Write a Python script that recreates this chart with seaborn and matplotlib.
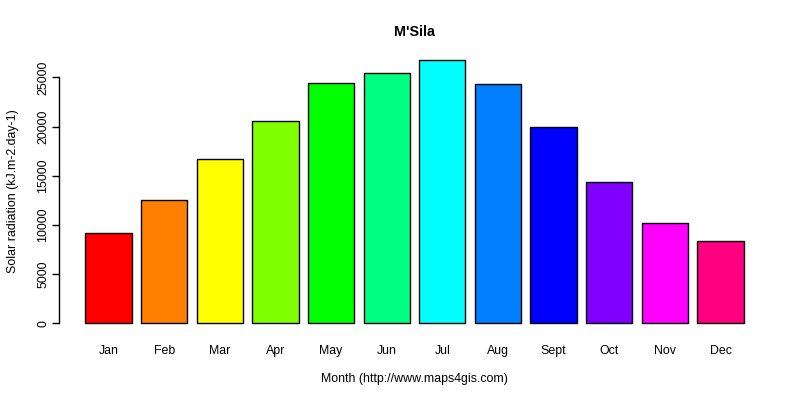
import matplotlib
matplotlib.use("Agg")
import matplotlib.pyplot as plt
import seaborn as sns
import pandas as pd

months = ["Jan", "Feb", "Mar", "Apr", "May", "Jun", "Jul", "Aug", "Sept", "Oct", "Nov", "Dec"]
radiation = [9150, 12560, 16670, 20530, 24450, 25470, 26790, 24290, 19920, 14330, 10160, 8330]
colors = ["#FF0000", "#FF8000", "#FFFF00", "#80FF00", "#00FF00", "#00FF80",
          "#00FFFF", "#0080FF", "#0000FF", "#8000FF", "#FF00FF", "#FF0080"]
y_ticks = [0, 5000, 10000, 15000, 20000, 25000]

sns.set_style("white")
plt.rcParams["font.family"] = ["Liberation Sans", "DejaVu Sans"]
plt.rcParams["text.color"] = "black"
plt.rcParams["axes.labelcolor"] = "black"
plt.rcParams["xtick.color"] = "black"
plt.rcParams["ytick.color"] = "black"

df = pd.DataFrame({"month": months, "value": radiation})

fig = plt.figure(figsize=(8, 4), dpi=100)
ax = fig.add_axes([0.07375, 0.1655, 0.88875, 0.7115])

sns.barplot(data=df, x="month", y="value", hue="month", palette=colors,
            order=months, hue_order=months, width=0.8333, edgecolor="black",
            linewidth=1, legend=False, ax=ax, saturation=1)

ymax = max(radiation)
ax.set_ylim(-0.04 * ymax, 1.04 * ymax)
ax.set_xlim(-0.89, 11.89)

for s in ["top", "right", "bottom"]:
    ax.spines[s].set_visible(False)
ax.spines["left"].set_bounds(0, 25000)
ax.spines["left"].set_color("black")
ax.spines["left"].set_linewidth(1)

fs = 8.9
ax.set_yticks(y_ticks)
ax.set_yticklabels([str(v) for v in y_ticks], rotation=90, va="center", fontsize=fs)
ax.tick_params(axis="y", length=5, width=1, color="black", pad=2, left=True)
ax.tick_params(axis="x", length=0, pad=8, labelsize=fs)

ax.set_xlabel("Month (http://www.maps4gis.com)", fontsize=fs, labelpad=11.5)
ax.set_ylabel("Solar radiation (kJ.m-2.day-1)", fontsize=fs, labelpad=13.5)
ax.set_title("M'Sila", fontsize=10.3, fontweight="bold", pad=9.5, color="black")
ax.grid(False)

fig.savefig("out.png", dpi=100)
